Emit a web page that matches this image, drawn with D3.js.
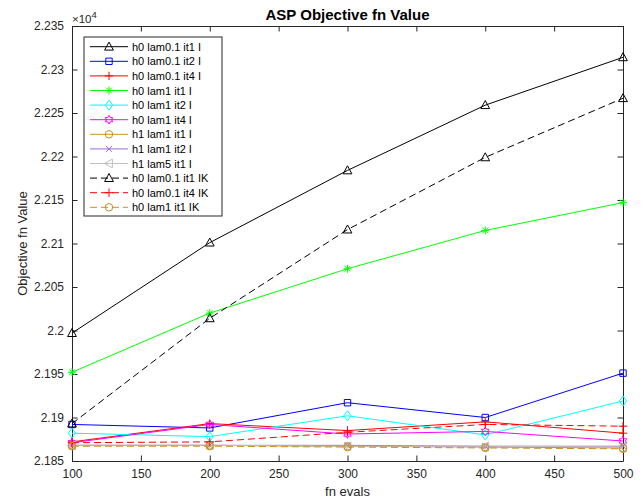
<!DOCTYPE html>
<html>
<head>
<meta charset="utf-8">
<script src="https://cdn.jsdelivr.net/npm/d3@7"></script>
<style>
  html, body { margin: 0; padding: 0; background: #fff; }
  svg { display: block; font-family: "Liberation Sans", Arial, Helvetica, sans-serif; }
</style>
</head>
<body>
<svg id="chart" width="643" height="500"></svg>
<script>
// ---------- data ----------
const fnEvals = [100, 200, 300, 400, 500];
const seriesNames = [
  "h0 lam0.1 it1 I", "h0 lam0.1 it2 I", "h0 lam0.1 it4 I", "h0 lam1 it1 I",
  "h0 lam1 it2 I", "h0 lam1 it4 I", "h1 lam1 it1 I", "h1 lam1 it2 I",
  "h1 lam5 it1 I", "h0 lam0.1 it1 IK", "h0 lam0.1 it4 IK", "h0 lam1 it1 IK"
];
const h0_lam01_it1_I  = [21997, 22101, 22184, 22259, 22314];
const h0_lam01_it2_I  = [21892, 21888, 21917, 21900, 21951];
const h0_lam01_it4_I  = [21872, 21893, 21885, 21895, 21882];
const h0_lam1_it1_I   = [21952, 22020, 22071, 22115, 22147];
const h0_lam1_it2_I   = [21882, 21878, 21902, 21880, 21919];
const h0_lam1_it4_I   = [21871, 21892, 21881, 21884, 21873];
const h1_lam1_it1_I   = [21868, 21868, 21867, 21866, 21865];
const h1_lam1_it2_I   = [21868, 21868, 21868, 21867, 21867];
const h1_lam5_it1_I   = [21868, 21868, 21867, 21867, 21866];
const h0_lam01_it1_IK = [21893, 22014, 22116, 22199, 22267];
const h0_lam01_it4_IK = [21871, 21872, 21883, 21892, 21890];
const h0_lam1_it1_IK  = [21867, 21867, 21866, 21865, 21864];
const seriesValues = [
  h0_lam01_it1_I, h0_lam01_it2_I, h0_lam01_it4_I, h0_lam1_it1_I,
  h0_lam1_it2_I, h0_lam1_it4_I, h1_lam1_it1_I, h1_lam1_it2_I,
  h1_lam5_it1_I, h0_lam01_it1_IK, h0_lam01_it4_IK, h0_lam1_it1_IK
];
const xTicks = [100, 150, 200, 250, 300, 350, 400, 450, 500];
const yTicks = [21850, 21900, 21950, 22000, 22050, 22100, 22150, 22200, 22250, 22300, 22350];
const yTickLabels = ["2.185", "2.19", "2.195", "2.2", "2.205", "2.21", "2.215", "2.22", "2.225", "2.23", "2.235"];

// ---------- styles ----------
const seriesColors = ["#000000", "#0000ff", "#ff0000", "#00ff00", "#00ffff", "#ff00ff",
                      "#c8901e", "#9a6bd6", "#c0c0c0", "#000000", "#ff0000", "#c8901e"];
const seriesMarkers = ["^", "s", "+", "*", "d", "h", "o", "x", "<", "^", "+", "o"];
const seriesDashed = [false, false, false, false, false, false, false, false, false, true, true, true];

function markerPath(t) {
  switch (t) {
    case "^": return "M0,-4.6L4.4,3.4L-4.4,3.4Z";
    case "<": return "M-4.6,0L3.4,-4.4L3.4,4.4Z";
    case "s": return "M-3.2,-3.2H3.2V3.2H-3.2Z";
    case "+": return "M-4.2,0H4.2M0,-4.2V4.2";
    case "*": return "M-4,0H4M0,-4V4M-2.9,-2.9L2.9,2.9M-2.9,2.9L2.9,-2.9";
    case "d": return "M0,-5L3.6,0L0,5L-3.6,0Z";
    case "x": return "M-3,-3L3,3M-3,3L3,-3";
    case "o": return d3.symbol(d3.symbolCircle, 44)();
    case "h": {
      const r = 4.3, pts = [];
      for (let k = 0; k < 12; k++) {
        const rr = (k % 2 === 0) ? r : r * 0.58;
        const a = -Math.PI / 2 + k * Math.PI / 6;
        pts.push([rr * Math.cos(a), rr * Math.sin(a)]);
      }
      return "M" + pts.map(p => p[0].toFixed(2) + "," + p[1].toFixed(2)).join("L") + "Z";
    }
  }
  return "";
}

// ---------- layout ----------
const svg = d3.select("#chart");
const L = 72, R = 623, T = 26, B = 461;
const axisColor = "#262626";

svg.append("rect").attr("width", 643).attr("height", 500).attr("fill", "#fff");

const x = d3.scaleLinear().domain([100, 500]).range([L, R]);
const y = d3.scaleLinear().domain([21850, 22350]).range([B, T]);

const xAxis = d3.axisBottom(x).tickValues(xTicks).tickSizeInner(-5.5).tickSizeOuter(0).tickPadding(8)
  .tickFormat(d3.format("d"));
const yAxis = d3.axisLeft(y).tickValues(yTicks).tickSizeInner(-5.5).tickSizeOuter(0).tickPadding(8)
  .tickFormat((d, i) => yTickLabels[i]);
const xTop = d3.axisTop(x).tickValues(xTicks).tickSizeInner(-5.5).tickSizeOuter(0).tickFormat("");
const yRight = d3.axisRight(y).tickValues(yTicks).tickSizeInner(-5.5).tickSizeOuter(0).tickFormat("");

function styleAxis(g) {
  g.select(".domain").attr("stroke", axisColor).attr("stroke-width", 1);
  g.selectAll(".tick line").attr("stroke", axisColor).attr("stroke-width", 1);
  g.selectAll(".tick text").attr("fill", axisColor).style("font-size", "12px")
    .style("font-family", "'Liberation Sans', Arial, sans-serif");
}
svg.append("g").attr("transform", `translate(0,${B})`).call(xAxis).call(styleAxis);
svg.append("g").attr("transform", `translate(${L},0)`).call(yAxis).call(styleAxis);
svg.append("g").attr("transform", `translate(0,${T})`).call(xTop).call(styleAxis);
svg.append("g").attr("transform", `translate(${R},0)`).call(yRight).call(styleAxis);

// exponent label
const exp = svg.append("text").attr("x", 72).attr("y", 23).attr("fill", axisColor)
  .style("font-size", "11.5px");
exp.append("tspan").text("×10");
exp.append("tspan").attr("dy", -5).style("font-size", "9.5px").text("4");

// series
const line = d3.line().x((d, i) => x(fnEvals[i])).y(d => y(d));
const plot = svg.append("g");
seriesValues.forEach((vals, si) => {
  const g = plot.append("g");
  g.append("path").datum(vals).attr("d", line).attr("fill", "none")
    .attr("stroke", seriesColors[si]).attr("stroke-width", 1)
    .attr("stroke-dasharray", seriesDashed[si] ? "7,4" : null);
  g.selectAll("path.mk").data(vals).join("path").attr("class", "mk")
    .attr("d", markerPath(seriesMarkers[si]))
    .attr("transform", (d, i) => `translate(${x(fnEvals[i])},${y(d)})`)
    .attr("fill", "none").attr("stroke", seriesColors[si]).attr("stroke-width", 1);
});

// title & axis labels
svg.append("text").attr("x", (L + R) / 2).attr("y", 20).attr("text-anchor", "middle")
  .style("font-size", "15px").style("font-weight", "bold").attr("fill", "#000")
  .text("ASP Objective fn Value");
svg.append("text").attr("x", (L + R) / 2).attr("y", 496).attr("text-anchor", "middle")
  .style("font-size", "13px").attr("fill", axisColor).text("fn evals");
svg.append("text").attr("transform", `translate(27,${(T + B) / 2}) rotate(-90)`)
  .attr("text-anchor", "middle").style("font-size", "13px").attr("fill", axisColor)
  .text("Objective fn Value");

// legend
const lg = svg.append("g");
lg.append("rect").attr("x", 84).attr("y", 37).attr("width", 138).attr("height", 179)
  .attr("fill", "#fff").attr("stroke", axisColor).attr("stroke-width", 1);
seriesNames.forEach((name, si) => {
  const yy = 46.7 + si * 14.6;
  lg.append("line").attr("x1", 90).attr("x2", 128).attr("y1", yy).attr("y2", yy)
    .attr("stroke", seriesColors[si]).attr("stroke-width", 1)
    .attr("stroke-dasharray", seriesDashed[si] ? "7,4" : null);
  lg.append("path").attr("d", markerPath(seriesMarkers[si]))
    .attr("transform", `translate(109,${yy})`).attr("fill", "none")
    .attr("stroke", seriesColors[si]).attr("stroke-width", 1);
  lg.append("text").attr("x", 132).attr("y", yy + 4).style("font-size", "11px")
    .attr("fill", "#000").text(name);
});
</script>
</body>
</html>
